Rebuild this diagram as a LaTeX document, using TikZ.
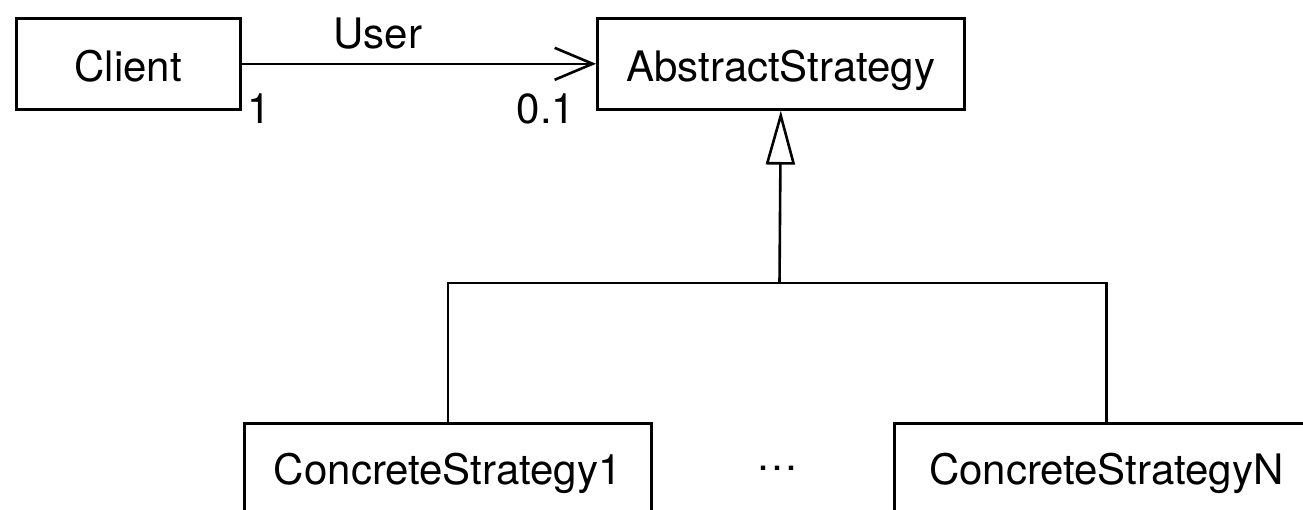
\documentclass[tikz,border=0pt]{standalone}
\usepackage{fontspec}
\setmainfont{TeX Gyre Heros}
\usetikzlibrary{arrows.meta}
\begin{document}
\begin{tikzpicture}[x=1pt,y=-1pt,
  every node/.style={font=\fontsize{42}{50}\selectfont},
  cls/.style={draw, line width=2.6pt, inner xsep=0pt, inner ysep=0pt},
  lbl/.style={inner sep=0pt, anchor=base},
  conn/.style={line width=2.6pt},
  assoc/.style={conn, -{Straight Barb[length=38pt, width=32pt, line width=2.6pt]}},
  inherit/.style={conn, -{Triangle[open, length=54pt, width=29pt, line width=2.6pt]}}]
\useasboundingbox (0,0) rectangle (1303,509);
\clip (0,0) rectangle (1303,509);
\fill[white] (0,0) rectangle (1303,509);

\node[cls, minimum width=224pt, text height=63pt, text depth=28pt, anchor=north west] (client) at (15,17) {Client};
\node[cls, minimum width=367pt, text height=63pt, text depth=28pt, anchor=north west] (abs) at (596,17) {AbstractStrategy};
\node[cls, minimum width=407pt, text height=61pt, text depth=80pt, anchor=north west] (c1) at (243,422) {ConcreteStrategy1};
\node[cls, minimum width=424pt, text height=61pt, text depth=80pt, anchor=north west] (cn) at (893,422) {ConcreteStrategyN};

\node[lbl] (user) at (378,48) {User};
\node[lbl] (m1) at (259,123) {1};
\node[lbl] (m01) at (546,123) {0.1};
\node[lbl] (dots) at (777,470) {…};

\coordinate (j) at (779.5,283);

\draw[assoc] (client.east) -- (abs.west);
\draw[inherit] (j) -- (abs.south);
\draw[conn] (c1.north) |- (j);
\draw[conn] (cn.north) |- (j);
\end{tikzpicture}
\end{document}
